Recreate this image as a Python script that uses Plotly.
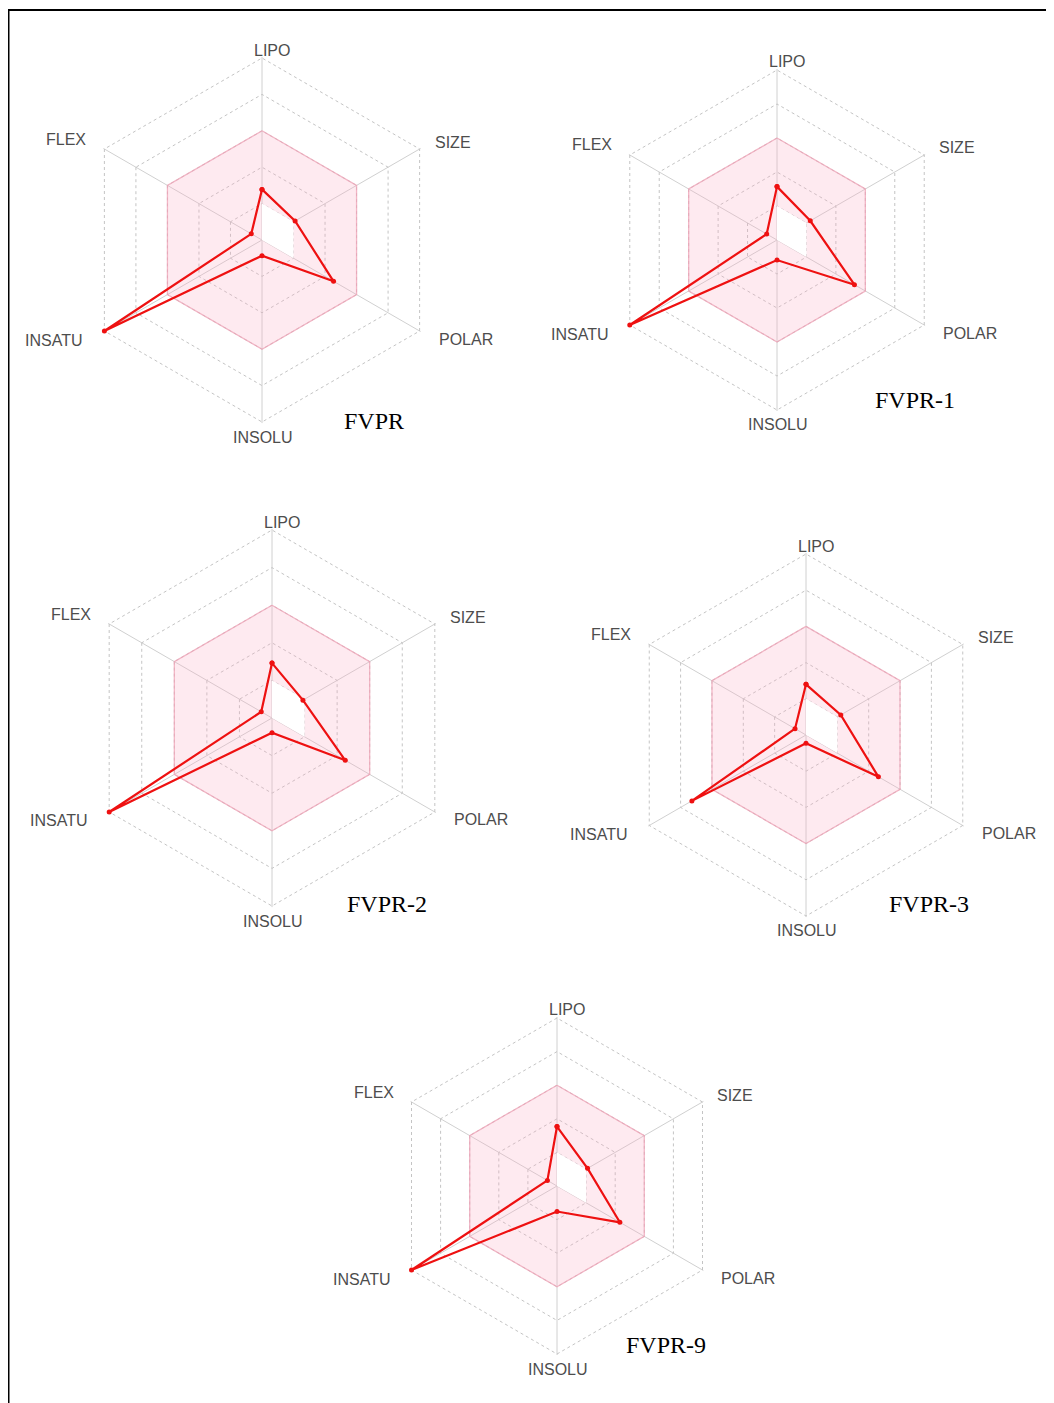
import math
import plotly.graph_objects as go

PAGE_W, PAGE_H = 1054, 1403
OFF = 8                      # default body margin of the html page
W, H = PAGE_W - OFF, PAGE_H - OFF

# ---------------- data ----------------
axes_labels = ["LIPO", "SIZE", "POLAR", "INSOLU", "INSATU", "FLEX"]
compounds = ["FVPR", "FVPR-1", "FVPR-2", "FVPR-3", "FVPR-9"]
fvpr   = [1.39, 1.05, 2.27, 0.43, 5.00, 0.34]
fvpr_1 = [1.57, 1.13, 2.63, 0.59, 5.00, 0.35]
fvpr_2 = [1.46, 0.95, 2.25, 0.39, 5.00, 0.33]
fvpr_3 = [1.40, 1.11, 2.31, 0.23, 3.64, 0.35]
fvpr_9 = [1.77, 1.05, 2.16, 0.76, 5.00, 0.33]
series = [fvpr, fvpr_1, fvpr_2, fvpr_3, fvpr_9]
optimal_upper = [3, 3, 3, 3, 3, 3]
optimal_lower = [1, 1, 1, 0, 0, 0]
ring_ticks = [1, 2, 3, 4, 5]
R_MAX = 5.0
R_RANGE = 5.03               # slightly beyond the outer ring so that it gets drawn

# ---------------- layout (page-pixel centres, outer-ring radius, title position) ----------------
panels = [
    dict(cx=262, cy=240, R=182, tx=342, ty=421),
    dict(cx=777, cy=240, R=170, tx=873, ty=400),
    dict(cx=272, cy=718, R=188, tx=345, ty=904),
    dict(cx=806, cy=735, R=181, tx=887, ty=904),
    dict(cx=557, cy=1186, R=168, tx=624, ty=1345),
]
# label placement style per axis: (xanchor, xshift, yshift)
label_style = {
    "LIPO":   ("center", 10, 8),
    "SIZE":   ("left", 13, 7),
    "POLAR":  ("left", 17, -8),
    "INSOLU": ("center", 1, -15),
    "INSATU": ("right", -20, -9),
    "FLEX":   ("right", -16, 10),
}

def closed(v):
    return list(v) + [v[0]]

def fx(px):
    return (px - OFF) / W

def fy(py):
    return 1 - (py - OFF) / H

fig = go.Figure()
layout_polars = {}
annotations = []

for i, (name, vals, p) in enumerate(zip(compounds, series, panels)):
    pid = "polar" if i == 0 else f"polar{i+1}"
    theta = closed(axes_labels)
    fig.add_trace(go.Scatterpolar(
        r=closed(optimal_upper), theta=theta, subplot=pid, mode="lines",
        fill="toself", fillcolor="rgba(250,175,198,0.26)",
        line=dict(color="rgba(238,160,180,0.75)", width=1.3),
        hoverinfo="skip", showlegend=False))
    fig.add_trace(go.Scatterpolar(
        r=closed(optimal_lower), theta=theta, subplot=pid, mode="lines",
        fill="toself", fillcolor="white",
        line=dict(color="rgba(255,255,255,0)", width=0),
        hoverinfo="skip", showlegend=False))
    fig.add_trace(go.Scatterpolar(
        r=closed(vals), theta=theta, subplot=pid, mode="lines+markers",
        line=dict(color="#ee1111", width=2.2),
        marker=dict(color="#ee1111", size=5),
        name=name, showlegend=False))

    Rd = p["R"] * R_RANGE / R_MAX
    layout_polars[pid] = dict(
        domain=dict(x=[fx(p["cx"] - Rd), fx(p["cx"] + Rd)],
                    y=[fy(p["cy"] + Rd), fy(p["cy"] - Rd)]),
        gridshape="linear",
        bgcolor="rgba(0,0,0,0)",
        radialaxis=dict(range=[0, R_RANGE], tickvals=ring_ticks, showticklabels=False,
                        ticks="", showline=False, gridcolor="#c4c4c4",
                        griddash="dot", gridwidth=1),
        angularaxis=dict(type="category", categoryarray=axes_labels,
                         rotation=90, direction="clockwise", showticklabels=False,
                         showline=False, ticks="", gridcolor="#d0d0d0", gridwidth=1),
    )
    # axis labels
    for k, lab in enumerate(axes_labels):
        ang = math.radians(90 - 60 * k)
        vx = p["cx"] + p["R"] * math.cos(ang)
        vy = p["cy"] - p["R"] * math.sin(ang)
        xa, xs, ys = label_style[lab]
        annotations.append(dict(
            text=lab, x=fx(vx), y=fy(vy), xref="paper", yref="paper",
            xanchor=xa, yanchor="middle", xshift=xs, yshift=ys, showarrow=False,
            font=dict(family="Liberation Sans, Arial", size=16, color="#4d4d4d")))
    annotations.append(dict(
        text=name, x=fx(p["tx"]), y=fy(p["ty"]), xref="paper", yref="paper",
        xanchor="left", yanchor="middle", showarrow=False,
        font=dict(family="Liberation Serif, Times New Roman", size=24, color="black")))

fig.update_layout(
    width=W, height=H, margin=dict(l=0, r=0, t=0, b=0),
    paper_bgcolor="white", plot_bgcolor="white",
    annotations=annotations,
    shapes=[
        dict(type="line", xref="paper", yref="paper", x0=fx(8), x1=1, y0=fy(10), y1=fy(10),
             line=dict(color="black", width=2)),
        dict(type="line", xref="paper", yref="paper", x0=fx(8.5), x1=fx(8.5), y0=0, y1=fy(10),
             line=dict(color="black", width=2)),
    ],
    **layout_polars,
)

fig.write_html("out.html")
